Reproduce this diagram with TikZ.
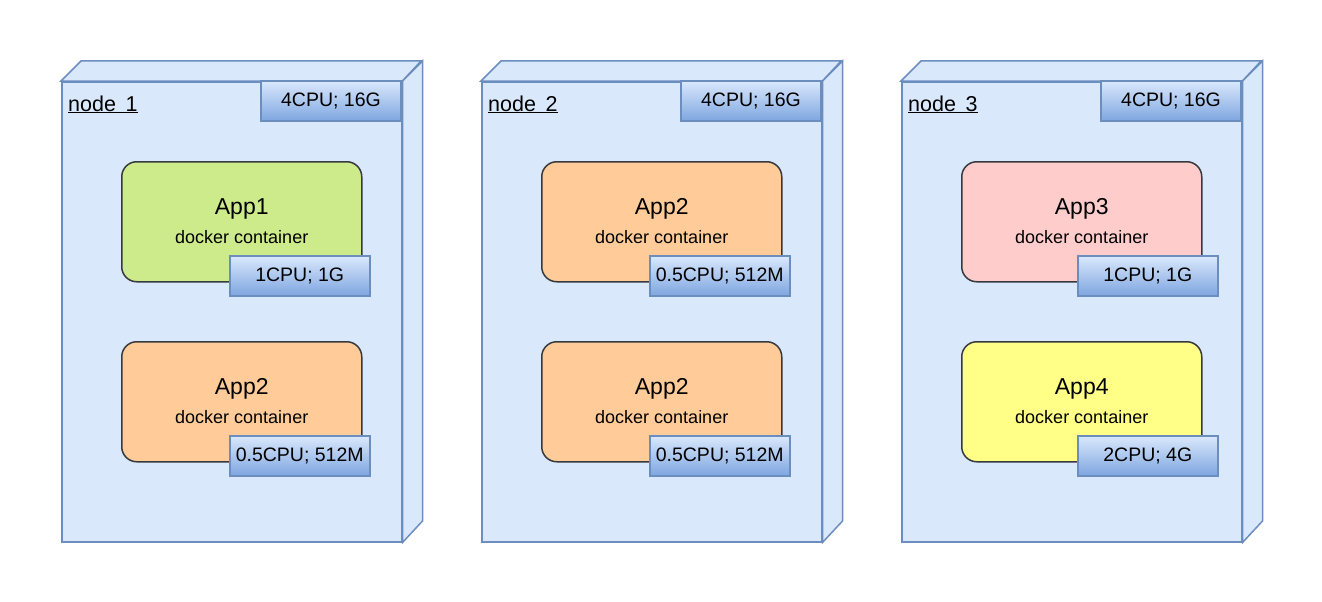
\documentclass[tikz,border=0pt]{standalone}
\usepackage{fontspec}
\setmainfont{Liberation Sans}
\usetikzlibrary{calc}
\definecolor{nodefill}{HTML}{DAE8FC}
\definecolor{nodeline}{HTML}{6C8EBF}
\definecolor{gradbot}{HTML}{7EA6E0}
\definecolor{appline}{HTML}{36393D}
\definecolor{appgreen}{HTML}{CDEB8B}
\definecolor{apporange}{HTML}{FFCC99}
\definecolor{apppink}{HTML}{FFCCCC}
\definecolor{appyellow}{HTML}{FFFF88}
\tikzset{
  server/.style={draw=nodeline, fill=nodefill, line width=1.5pt, minimum width=340pt, minimum height=460pt, inner sep=0pt, anchor=north west},
  serverface/.style={draw=nodeline, fill=nodefill, line width=1.5pt, line join=miter},
  res/.style={draw=nodeline, top color=nodefill, bottom color=gradbot, line width=1.5pt, minimum width=140pt, minimum height=40pt, inner sep=0pt, font=\fontsize{19.5}{22}\selectfont},
  app/.style={draw=appline, line width=1.5pt, rounded corners=15pt, minimum width=240pt, minimum height=120pt, inner sep=0pt, anchor=north west},
  apptitle/.style={inner sep=0pt, font=\fontsize{23}{26}\selectfont, anchor=base},
  appsub/.style={inner sep=0pt, font=\fontsize{18}{21}\selectfont, anchor=base},
  nodelabel/.style={inner sep=0pt, font=\fontsize{21.5}{25}\selectfont, anchor=base west},
}
\newcommand\drawserver[3]{% name, left x, label
  \node[server] (#1) at (#2,81) {};
  \draw[serverface] (#1.north west) -- ++(20,-20) -- ++(340,0) -- (#1.north east) -- cycle;
  \draw[serverface] (#1.north east) -- ++(20,-20) -- ++(0,460) -- (#1.south east) -- cycle;
  \node[res] (#1r) at ($(#1.north west)+(270,20)$) {4CPU; 16G};
  \node[nodelabel] (#1l) at ($(#1.north west)+(7,30)$) {\underline{node\hspace{0.45em}#3}};
}
\newcommand\appbox[7]{% name, left x, top y, fill, title, resource, resource x offset
  \node[app, fill=#4] (#1) at (#2,#3) {};
  \node[apptitle] (#1t) at ($(#1.north)+(0,53)$) {#5};
  \node[appsub] (#1s) at ($(#1.north)+(0,82)$) {docker container};
  \node[res] (#1r) at ($(#1.center)+(#7,54)$) {#6};
}
\begin{document}
\begin{tikzpicture}[x=1pt,y=-1pt]
  \useasboundingbox (0,0) rectangle (1322,602);
  \fill[white] (0,0) rectangle (1322,602);
  \drawserver{s1}{61}{1}
  \drawserver{s2}{481}{2}
  \drawserver{s3}{901}{3}
  \appbox{a1}{121}{161}{appgreen}{App1}{1CPU; 1G}{58}
  \appbox{a2}{121}{341}{apporange}{App2}{0.5CPU; 512M}{58}
  \appbox{a3}{541}{161}{apporange}{App2}{0.5CPU; 512M}{58}
  \appbox{a4}{541}{341}{apporange}{App2}{0.5CPU; 512M}{58}
  \appbox{a5}{961}{161}{apppink}{App3}{1CPU; 1G}{66}
  \appbox{a6}{961}{341}{appyellow}{App4}{2CPU; 4G}{66}
\end{tikzpicture}
\end{document}
